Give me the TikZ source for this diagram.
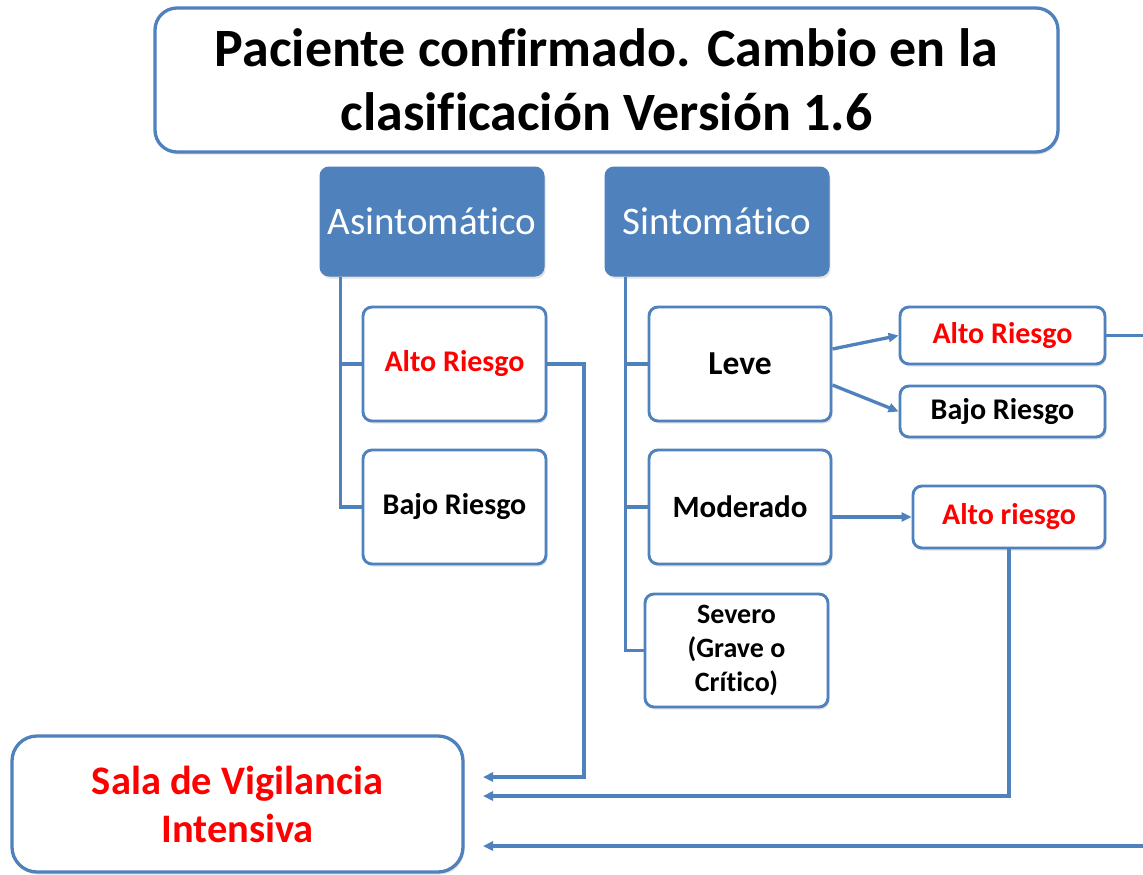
\documentclass[tikz,border=0pt]{standalone}
\usepackage{fontspec}
\setmainfont{Carlito}[Ligatures=NoCommon]
\usetikzlibrary{shadows,arrows.meta}
\definecolor{bord}{RGB}{79,129,189}
\definecolor{hdr}{RGB}{79,129,189}
\definecolor{redt}{RGB}{255,0,0}
\begin{document}
\begin{tikzpicture}[x=1pt,y=-1pt,
  shad/.style={drop shadow={opacity=0.22,shadow xshift=1.5pt,shadow yshift=-2.5pt}},
  box/.style={draw=bord, line width=2.9pt, rounded corners=9pt, fill=white, shad, align=center, inner sep=0pt, font=\fontsize{30}{34}\selectfont\bfseries},
  hbox/.style={draw=hdr, fill=hdr, line width=1pt, rounded corners=9pt, shad, align=center, inner sep=0pt, text=white, font=\fontsize{39}{44}\selectfont, minimum width=224pt, minimum height=109pt},
  conn/.style={draw=bord, line width=3.3pt},
  arr/.style={conn, -{Triangle[length=10pt,width=9pt]}}]
\clip (0,0) rectangle (1143,875);
\fill[white] (0,0) rectangle (1143,875);

% title
\node[box, rounded corners=22pt, line width=3.3pt, minimum width=903pt, minimum height=144pt, font=\fontsize{54}{64}\selectfont\bfseries] (title) at (606.5,80) {Paciente confirmado. Cambio en la\\clasificación Versión 1.6};

% headers
\node[hbox] (asy) at (432,221.5) {Asintomático};
\node[hbox] (sym) at (717,221.5) {Sintomático};

% asymptomatic children
\node[box, minimum width=183pt, minimum height=114pt, text=redt] (altoA) at (454.5,364) {Alto Riesgo};
\node[box, minimum width=183pt, minimum height=114pt] (bajoA) at (454.5,507) {Bajo Riesgo};

% symptomatic children
\node[box, minimum width=182pt, minimum height=114pt, font=\fontsize{33.5}{34}\selectfont\bfseries] (leve) at (740,364) {Leve};
\node[box, minimum width=182pt, minimum height=114pt, font=\fontsize{31}{34}\selectfont\bfseries] (mod) at (740,507) {Moderado};
\node[box, minimum width=183pt, minimum height=113pt, font=\fontsize{28}{34}\selectfont\bfseries] (sev) at (736.5,650.5) {Severo\\(Grave o\\Crítico)};

% right boxes
\node[box, minimum width=205pt, minimum height=57pt, text=redt] (altoR) at (1002.5,335.5) {Alto Riesgo};
\node[box, minimum width=205pt, minimum height=51pt] (bajoR) at (1002.5,411.5) {Bajo Riesgo};
\node[box, minimum width=192pt, minimum height=62pt, text=redt] (altoM) at (1009,517) {Alto riesgo};

% sala
\node[box, rounded corners=25pt, line width=3.3pt, minimum width=451pt, minimum height=136pt, text=redt, font=\fontsize{40.5}{48}\selectfont\bfseries] (sala) at (237.5,804) {Sala de Vigilancia\\Intensiva};

% arrow end coordinates
\coordinate (s1) at (483,777);
\coordinate (s2) at (483,796);
\coordinate (s3) at (483,846);
\coordinate (r1) at (584,364);
\coordinate (r2) at (1150,335.5);

% tree connectors
\draw[conn] ([xshift=21pt]asy.south west) |- (altoA.west);
\draw[conn] ([xshift=21pt]asy.south west) |- (bajoA.west);
\draw[conn] ([xshift=21pt]sym.south west) |- (leve.west);
\draw[conn] ([xshift=21pt]sym.south west) |- (mod.west);
\draw[conn] ([xshift=21pt]sym.south west) |- (sev.west);

% arrows between boxes
\draw[arr] ([yshift=15pt]leve.east) -- (altoR.west);
\draw[arr] ([yshift=-21pt]leve.east) -- (bajoR.west);
\draw[arr] (mod.east |- altoM.west) -- (altoM.west);

% arrows to sala
\draw[arr] (altoA.east) -- (r1) |- (s1);
\draw[arr] (altoM.south) |- (s2);
\draw[arr] (altoR.east) -- (r2) |- (s3);
\end{tikzpicture}
\end{document}
